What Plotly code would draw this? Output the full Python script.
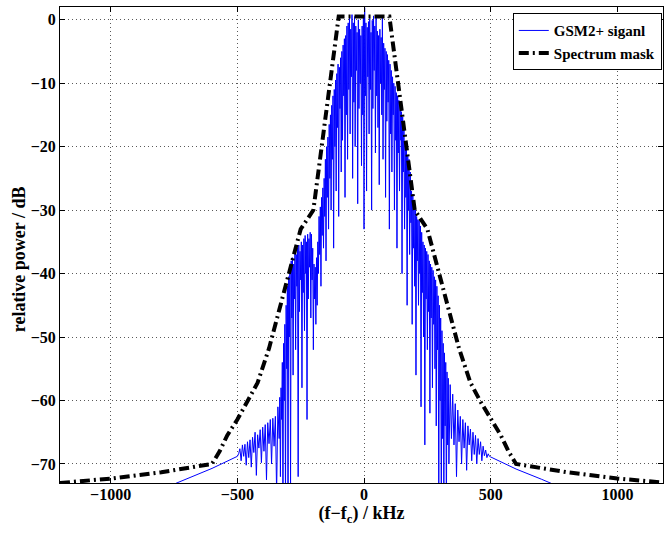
import plotly.graph_objects as go

# Spectrum mask (kHz, dB)
mask_freq_khz = [-1200, -1000, -800, -600, -570, -540, -500, -460, -420, -375, -335, -300,
                 -275, -250, -200, -100, 100, 200, 250, 275, 300, 335, 375, 420, 460, 500,
                 540, 570, 600, 800, 1000, 1200]
mask_db = [-73.0, -72.3, -71.3, -70.0, -68.0, -65.5, -63.0, -60.2, -57.2, -51.8, -45.8, -40.5,
           -36.6, -33.0, -30.0, 0.5, 0.5, -30.0, -33.0, -36.6, -40.5, -45.8, -51.8, -57.2, -60.2,
           -63.0, -65.5, -68.0, -70.0, -71.3, -72.3, -73.0]

# GSM2+ signal spectrum, in segments (kHz, dB)
left_tail_f = [-1200, -1000, -800, -700, -600, -500]
left_tail_db = [-82.0, -78.5, -74.0, -72.3, -70.7, -68.8]

left_side_f = [
    -495, -490, -485, -480, -475, -470, -465, -460, -455, -450,
    -445, -440, -435, -430, -425, -420, -415, -410, -405, -400,
    -395, -390, -385, -380, -375, -370, -365, -360, -355, -350,
    -345, -340,
]
left_side_db = [
    -68.4, -67.6, -69.5, -67.0, -68.8, -66.9, -70.2, -66.5, -69.0, -66.2,
    -70.5, -65.8, -68.2, -65.0, -71.8, -65.4, -67.5, -64.6, -69.8, -64.2,
    -68.0, -63.8, -72.5, -63.5, -66.8, -63.0, -70.0, -62.8, -67.2, -62.5,
    -74.5, -61.0,
]

center_f = [
    -335.0, -332.5, -330.0, -327.5, -325.0, -322.5, -320.0, -317.5, -315.0, -312.5,
    -310.0, -307.5, -305.0, -302.5, -300.0, -297.5, -295.0, -292.5, -290.0, -287.5,
    -285.0, -282.5, -280.0, -277.5, -275.0, -272.5, -270.0, -267.5, -265.0, -262.5,
    -260.0, -257.5, -255.0, -252.5, -250.0, -247.5, -245.0, -242.5, -240.0, -237.5,
    -235.0, -232.5, -230.0, -227.5, -225.0, -222.5, -220.0, -217.5, -215.0, -212.5,
    -210.0, -207.5, -205.0, -202.5, -200.0, -197.5, -195.0, -192.5, -190.0, -187.5,
    -185.0, -182.5, -180.0, -177.5, -175.0, -172.5, -170.0, -167.5, -165.0, -162.5,
    -160.0, -157.5, -155.0, -152.5, -150.0, -147.5, -145.0, -142.5, -140.0, -137.5,
    -135.0, -132.5, -130.0, -127.5, -125.0, -122.5, -120.0, -117.5, -115.0, -112.5,
    -110.0, -107.5, -105.0, -102.5, -100.0, -97.5, -95.0, -92.5, -90.0, -87.5,
    -85.0, -82.5, -80.0, -77.5, -75.0, -72.5, -70.0, -67.5, -65.0, -62.5,
    -60.0, -57.5, -55.0, -52.5, -50.0, -47.5, -45.0, -42.5, -40.0, -37.5,
    -35.0, -32.5, -30.0, -27.5, -25.0, -22.5, -20.0, -17.5, -15.0, -12.5,
    -10.0, -7.5, -5.0, -2.5, 0.0, 2.5, 5.0, 7.5, 10.0, 12.5,
    15.0, 17.5, 20.0, 22.5, 25.0, 27.5, 30.0, 32.5, 35.0, 37.5,
    40.0, 42.5, 45.0, 47.5, 50.0, 52.5, 55.0, 57.5, 60.0, 62.5,
    65.0, 67.5, 70.0, 72.5, 75.0, 77.5, 80.0, 82.5, 85.0, 87.5,
    90.0, 92.5, 95.0, 97.5, 100.0, 102.5, 105.0, 107.5, 110.0, 112.5,
    115.0, 117.5, 120.0, 122.5, 125.0, 127.5, 130.0, 132.5, 135.0, 137.5,
    140.0, 142.5, 145.0, 147.5, 150.0, 152.5, 155.0, 157.5, 160.0, 162.5,
    165.0, 167.5, 170.0, 172.5, 175.0, 177.5, 180.0, 182.5, 185.0, 187.5,
    190.0, 192.5, 195.0, 197.5, 200.0, 202.5, 205.0, 207.5, 210.0, 212.5,
    215.0, 217.5, 220.0, 222.5, 225.0, 227.5, 230.0, 232.5, 235.0, 237.5,
    240.0, 242.5, 245.0, 247.5, 250.0, 252.5, 255.0, 257.5, 260.0, 262.5,
    265.0, 267.5, 270.0, 272.5, 275.0, 277.5, 280.0, 282.5, 285.0, 287.5,
    290.0, 292.5, 295.0, 297.5, 300.0, 302.5, 305.0, 307.5, 310.0, 312.5,
    315.0, 317.5, 320.0, 322.5, 325.0, 327.5, 330.0, 332.5, 335.0,
]
center_db = [
    -66.0, -59.5, -72.0, -58.0, -63.0, -54.0, -76.0, -51.0, -60.0, -48.0,
    -77.0, -45.0, -55.0, -42.0, -79.0, -40.5, -50.0, -39.0, -74.0, -38.0,
    -47.0, -37.5, -56.0, -38.5, -44.0, -36.5, -52.0, -37.0, -42.0, -36.0,
    -72.0, -35.5, -46.0, -36.5, -41.0, -35.0, -58.0, -35.5, -43.0, -34.5,
    -49.0, -34.0, -40.0, -35.0, -63.0, -33.8, -44.0, -34.5, -39.0, -33.5,
    -47.0, -33.8, -41.0, -36.0, -52.0, -38.5, -44.0, -39.0, -48.0, -37.5,
    -45.0, -35.0, -40.0, -31.0, -37.0, -29.5, -42.0, -28.0, -34.0, -26.5,
    -36.0, -25.0, -31.0, -22.0, -38.0, -20.0, -28.0, -18.5, -33.0, -16.5,
    -25.0, -15.0, -30.0, -13.5, -22.0, -12.0, -36.0, -11.0, -20.0, -9.5,
    -27.0, -8.5, -17.0, -7.0, -31.0, -7.5, -14.0, -6.0, -24.0, -5.0,
    -19.0, -4.0, -12.0, -3.0, -28.0, -2.5, -15.0, -1.0, -22.0, -0.5,
    -11.0, 0.3, -18.0, -1.5, -9.0, 0.8, -25.0, -0.5, -13.0, 0.5,
    -20.0, -1.0, -8.0, -2.0, -29.0, 0.0, -14.0, -1.5, -10.0, -2.5,
    -23.0, -1.0, -15.0, 0.5, -33.0, 1.9, -12.0, -0.5, -27.0, -1.2,
    -9.0, -0.3, -18.0, 0.2, -11.0, -2.0, -30.0, -0.1, -14.0, 0.6,
    -8.0, -1.0, -21.0, 0.4, -12.0, -1.8, -17.0, -2.5, -26.0, -1.5,
    -10.0, -2.8, -15.0, 0.4, -22.0, -3.7, -11.0, -4.5, -28.0, -5.0,
    -16.0, -5.5, -13.0, -6.4, -33.0, -7.0, -18.0, -8.0, -24.0, -9.0,
    -15.0, -10.0, -30.0, -10.5, -19.0, -11.5, -36.0, -12.0, -21.0, -12.7,
    -27.0, -13.5, -19.0, -14.5, -40.0, -15.3, -24.0, -17.0, -33.0, -19.5,
    -28.0, -20.0, -45.0, -21.5, -30.0, -22.0, -37.0, -24.0, -32.0, -27.0,
    -48.0, -27.5, -36.0, -29.0, -42.0, -30.0, -56.0, -31.0, -38.0, -31.5,
    -45.0, -31.6, -40.0, -32.5, -61.0, -33.5, -43.0, -35.0, -50.0, -35.5,
    -67.0, -36.0, -44.0, -36.5, -52.0, -37.0, -46.0, -38.0, -62.0, -38.5,
    -47.0, -39.0, -58.0, -39.5, -48.0, -40.5, -55.0, -41.0, -64.0, -42.0,
    -52.0, -43.5, -77.0, -45.0, -60.0, -47.0, -79.0, -49.0, -66.0, -51.0,
    -76.0, -52.5, -64.0, -54.0, -78.0, -55.5, -67.0, -56.5, -70.0,
]

right_side_f = [
    340, 345, 350, 355, 360, 365, 370, 375, 380, 385,
    390, 395, 400, 405, 410, 415, 420, 425, 430, 435,
    440, 445, 450, 455, 460, 465, 470, 475, 480, 485,
    490, 495,
]
right_side_db = [
    -57.5, -66.0, -59.0, -67.0, -60.5, -72.0, -61.5, -66.5, -62.5, -70.0,
    -63.0, -67.5, -63.5, -71.0, -64.0, -67.0, -64.5, -69.5, -65.0, -68.5,
    -65.5, -70.0, -66.0, -68.5, -66.5, -69.5, -67.2, -68.7, -67.8, -69.0,
    -68.4, -68.8,
]

right_tail_f = [500, 600, 700, 800, 1000, 1200]
right_tail_db = [-68.9, -70.8, -72.4, -74.1, -78.4, -82.0]

signal_freq_khz = left_tail_f + left_side_f + center_f + right_side_f + right_tail_f
signal_db = left_tail_db + left_side_db + center_db + right_side_db + right_tail_db

x_ticks = [-1000, -500, 0, 500, 1000]
y_ticks = [0, -10, -20, -30, -40, -50, -60, -70]

FONT = "Liberation Serif"

fig = go.Figure()
fig.add_trace(go.Scatter(
    x=signal_freq_khz, y=signal_db, mode="lines", name="GSM2+ siganl",
    line=dict(color="#0000ff", width=1),
))
fig.add_trace(go.Scatter(
    x=mask_freq_khz, y=mask_db, mode="lines", name="Spectrum mask",
    line=dict(color="black", width=4, dash="10px,4px,2px,4px"),
))

axis_common = dict(
    showline=True, linecolor="black", linewidth=1, mirror="ticks",
    ticks="inside", ticklen=5, tickcolor="black",
    showgrid=True, gridcolor="rgba(0,0,0,0.65)", griddash="1px,3px", gridwidth=1,
    zeroline=False,
    tickfont=dict(family=FONT, size=16, color="black", weight="bold"),
)

fig.update_layout(
    width=664, height=533,
    margin=dict(l=60, r=1, t=7, b=50),
    paper_bgcolor="white", plot_bgcolor="white",
    font=dict(family=FONT, color="black"),
    xaxis=dict(
        range=[-1200, 1180], tickvals=x_ticks, ticklabelstandoff=-3,
        title=dict(text="<b>(f−f<sub>c</sub>) / kHz</b>",
                   font=dict(family=FONT, size=18, color="black"), standoff=2),
        **axis_common,
    ),
    yaxis=dict(
        range=[-73, 2], tickvals=y_ticks,
        **axis_common,
    ),
    annotations=[dict(
        text="<b>relative power / dB</b>", xref="paper", yref="paper",
        x=-0.068, y=0.47, xanchor="center", yanchor="middle", textangle=-90,
        showarrow=False, font=dict(family=FONT, size=18, color="black"),
    )],
    legend=dict(
        x=0.998, y=0.987, xanchor="right", yanchor="top",
        bordercolor="black", borderwidth=1, bgcolor="white",
        font=dict(family=FONT, size=15, color="black", weight="bold"),
        tracegroupgap=0, itemwidth=30,
    ),
    showlegend=True,
)

fig.write_html("out.html")
